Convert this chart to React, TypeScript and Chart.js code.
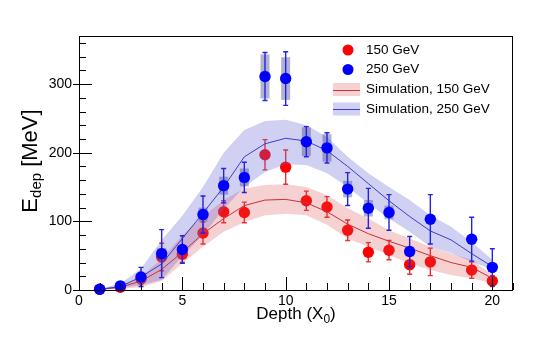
import React, { useEffect, useRef } from "react";
import { Chart, registerables } from "chart.js";

Chart.register(...registerables);

// ---------- data ----------
const depth = [1, 2, 3, 4, 5, 6, 7, 8, 9, 10, 11, 12, 13, 14, 15, 16, 17, 19, 20];
const e150 = [1, 4, 16, 48, 52, 83, 114, 113, 197, 179, 130, 121, 87, 55, 58, 37, 41, 29, 13];
const e150Err = [1, 3, 7, 20, 12, 16, 16, 15, 22, 25, 14, 15, 15, 14, 14, 14, 20, 12, 8];
const e250 = [1, 6, 19, 53, 59, 110, 152, 164, 311, 308, 216, 207, 147, 119, 113, 56, 103, 74, 33];
const e250Err = [1, 4, 14, 35, 20, 27, 25, 22, 35, 39, 22, 22, 24, 29, 26, 22, 36, 32, 27];
const e250Sys = [0, 2, 5, 8, 6, 10, 13, 13, 32, 31, 21, 20, 12, 12, 10, 7, 0, 0, 0];

const simDepth = [1, 2, 3, 4, 5, 6, 7, 8, 9, 10, 11, 12, 13, 14, 15, 16, 17, 18, 19, 20];
const sim150 = [1, 4, 13, 30, 55, 82, 104, 123, 131, 132, 127, 114, 96, 82, 71, 61, 50, 40, 33, 17];
const sim150Hi = [2, 6, 20, 45, 80, 107, 131, 148, 153, 154, 150, 138, 119, 104, 87, 75, 63, 53, 44, 22];
const sim150Lo = [0, 2, 4, 13, 39, 63, 85, 99, 109, 111, 109, 95, 75, 63, 51, 39, 29, 22, 17, 10];
const sim250 = [1, 5, 19, 38, 75, 112, 150, 194, 213, 221, 217, 203, 180, 155, 130, 107, 86, 73, 53, 34];
const sim250Hi = [2, 9, 31, 73, 108, 150, 200, 233, 246, 248, 240, 223, 194, 170, 150, 131, 109, 92, 70, 44];
const sim250Lo = [0, 3, 7, 15, 49, 80, 118, 150, 172, 183, 182, 170, 150, 126, 104, 85, 63, 54, 41, 30];

const xTicks = [0, 5, 10, 15, 20];
const yTicks = [0, 100, 200, 300];

const legendLabels = ["150 GeV", "250 GeV", "Simulation, 150 GeV", "Simulation, 250 GeV"];

// ---------- style ----------
const FONT = "'Liberation Sans', Arial, Helvetica, sans-serif";
const RED = "#ff0000";
const BLUE = "#0000ff";
const RED_BAR = "rgb(235,45,45)";
const BLUE_BAR = "rgb(35,35,225)";
const RED_BAND = "rgba(215,70,70,0.25)";
const BLUE_BAND = "rgba(100,100,215,0.30)";
const RED_LINE = "rgb(200,50,60)";
const BLUE_LINE = "rgb(60,60,200)";
const SYS_BOX = "rgba(60,60,140,0.40)";

type Seg = { t: string; size: number; dy: number };

function segsWidth(ctx: CanvasRenderingContext2D, segs: Seg[]) {
  let w = 0;
  for (const s of segs) {
    ctx.font = `${s.size}px ${FONT}`;
    w += ctx.measureText(s.t).width;
  }
  return w;
}
function drawSegs(ctx: CanvasRenderingContext2D, segs: Seg[], x: number, y: number) {
  let cx = x;
  for (const s of segs) {
    ctx.font = `${s.size}px ${FONT}`;
    ctx.fillText(s.t, cx, y + s.dy);
    cx += ctx.measureText(s.t).width;
  }
}

function drawErrors(
  ctx: CanvasRenderingContext2D,
  xs: any,
  ys: any,
  xv: number[],
  yv: number[],
  err: number[],
  sys: number[] | null,
  color: string
) {
  ctx.save();
  if (sys) {
    ctx.fillStyle = SYS_BOX;
    for (let i = 0; i < xv.length; i++) {
      if (!sys[i]) continue;
      const px = xs.getPixelForValue(xv[i]);
      const top = ys.getPixelForValue(yv[i] + sys[i]);
      const bot = ys.getPixelForValue(yv[i] - sys[i]);
      ctx.fillRect(px - 4.5, top, 9, bot - top);
    }
  }
  ctx.strokeStyle = color;
  ctx.lineWidth = 1.4;
  for (let i = 0; i < xv.length; i++) {
    const px = xs.getPixelForValue(xv[i]);
    const top = ys.getPixelForValue(yv[i] + err[i]);
    const bot = ys.getPixelForValue(Math.max(0, yv[i] - err[i]));
    ctx.beginPath();
    ctx.moveTo(px, top);
    ctx.lineTo(px, bot);
    ctx.moveTo(px - 2.5, top);
    ctx.lineTo(px + 2.5, top);
    ctx.moveTo(px - 2.5, bot);
    ctx.lineTo(px + 2.5, bot);
    ctx.stroke();
  }
  ctx.restore();
}

const pts = (xv: number[], yv: number[]) => xv.map((x, i) => ({ x, y: yv[i] }));

export default function App() {
  const ref = useRef<HTMLCanvasElement>(null);

  useEffect(() => {
    const canvas = ref.current!;

    const rootPlugin = {
      id: "rootStyle",
      beforeDatasetDraw(chart: any, args: any) {
        const ctx = chart.ctx;
        const xs = chart.scales.x;
        const ys = chart.scales.y;
        const ds = chart.data.datasets[args.index];
        if (ds.label === legendLabels[0]) drawErrors(ctx, xs, ys, depth, e150, e150Err, null, RED_BAR);
        if (ds.label === legendLabels[1]) drawErrors(ctx, xs, ys, depth, e250, e250Err, e250Sys, BLUE_BAR);
      },
      afterDraw(chart: any) {
        const ctx: CanvasRenderingContext2D = chart.ctx;
        const xs = chart.scales.x;
        const ys = chart.scales.y;
        const a = chart.chartArea;
        ctx.save();
        // frame
        ctx.strokeStyle = "#000";
        ctx.lineWidth = 1;
        ctx.strokeRect(a.left + 0.5, a.top + 0.5, a.right - a.left - 1, a.bottom - a.top);
        // x ticks (inward)
        ctx.beginPath();
        for (let v = 0; v <= 21; v++) {
          const px = Math.round(xs.getPixelForValue(v)) + 0.5;
          const len = v % 5 === 0 ? 13 : 7;
          ctx.moveTo(px, a.bottom);
          ctx.lineTo(px, a.bottom - len);
        }
        // y ticks
        for (let v = 0; v <= 360; v += 20) {
          const py = Math.round(ys.getPixelForValue(v)) + 0.5;
          if (v % 100 === 0) {
            ctx.moveTo(a.left - 6, py);
            ctx.lineTo(a.left + 13, py);
          } else {
            ctx.moveTo(a.left, py);
            ctx.lineTo(a.left + 7, py);
          }
        }
        ctx.stroke();

        // axis titles
        ctx.fillStyle = "#000";
        ctx.textBaseline = "alphabetic";
        ctx.textAlign = "left";
        const xt: Seg[] = [
          { t: "Depth (X", size: 17, dy: 0 },
          { t: "0", size: 12, dy: 4 },
          { t: ")", size: 17, dy: 0 },
        ];
        const xw = segsWidth(ctx, xt);
        drawSegs(ctx, xt, (a.left + a.right) / 2 - xw / 2, 318.5);

        const yt: Seg[] = [
          { t: "E", size: 22, dy: 0 },
          { t: "dep", size: 15, dy: 4 },
          { t: " [MeV]", size: 22, dy: 0 },
        ];
        const yw = segsWidth(ctx, yt);
        ctx.save();
        ctx.translate(37, 161);
        ctx.rotate(-Math.PI / 2);
        drawSegs(ctx, yt, -yw / 2, 0);
        ctx.restore();

        // legend
        const lx = 348;
        const tx = 366;
        const rows = [50, 69.5, 89.5, 109];
        ctx.font = `13.5px ${FONT}`;
        ctx.textBaseline = "middle";
        ctx.fillStyle = RED;
        ctx.beginPath();
        ctx.arc(lx, rows[0], 5.5, 0, Math.PI * 2);
        ctx.fill();
        ctx.fillStyle = BLUE;
        ctx.beginPath();
        ctx.arc(lx, rows[1], 5.5, 0, Math.PI * 2);
        ctx.fill();
        const bands = [
          [RED_BAND, RED_LINE],
          [BLUE_BAND, BLUE_LINE],
        ];
        for (let k = 0; k < 2; k++) {
          const cy = rows[2 + k];
          ctx.fillStyle = bands[k][0];
          ctx.fillRect(333, cy - 6.5, 27, 13);
          ctx.strokeStyle = bands[k][1];
          ctx.lineWidth = 1;
          ctx.beginPath();
          ctx.moveTo(333, Math.round(cy) + 0.5);
          ctx.lineTo(360, Math.round(cy) + 0.5);
          ctx.stroke();
        }
        ctx.fillStyle = "#000";
        for (let k = 0; k < 4; k++) ctx.fillText(legendLabels[k], tx, rows[k]);
        ctx.restore();
      },
    };

    const bandDs = (label: string, yv: number[], fill: any, bg: string, order: number) => ({
      label,
      data: pts(simDepth, yv),
      borderColor: "transparent",
      borderWidth: 0,
      pointRadius: 0,
      backgroundColor: bg,
      fill,
      order,
      tension: 0,
    });

    const chart = new Chart(canvas, {
      type: "line",
      data: {
        datasets: [
          {
            label: legendLabels[1],
            data: pts(depth, e250),
            showLine: false,
            pointRadius: 5.7,
            pointBackgroundColor: BLUE,
            pointBorderColor: BLUE,
            pointBorderWidth: 0,
            order: 0,
            clip: false,
          } as any,
          {
            label: legendLabels[3],
            data: pts(simDepth, sim250),
            borderColor: BLUE_LINE,
            borderWidth: 1,
            pointRadius: 0,
            fill: false,
            order: 1,
            tension: 0,
          },
          {
            label: legendLabels[2],
            data: pts(simDepth, sim150),
            borderColor: RED_LINE,
            borderWidth: 1,
            pointRadius: 0,
            fill: false,
            order: 2,
            tension: 0,
          },
          bandDs("band250hi", sim250Hi, "+1", BLUE_BAND, 3),
          bandDs("band250lo", sim250Lo, false, "transparent", 4),
          bandDs("band150hi", sim150Hi, "+1", RED_BAND, 5),
          bandDs("band150lo", sim150Lo, false, "transparent", 6),
          {
            label: legendLabels[0],
            data: pts(depth, e150),
            showLine: false,
            pointRadius: 5.7,
            pointBackgroundColor: RED,
            pointBorderColor: RED,
            pointBorderWidth: 0,
            order: 7,
            clip: false,
          } as any,
        ],
      },
      options: {
        responsive: false,
        animation: false,
        events: [],
        layout: { padding: { top: 36, right: 32, left: 0, bottom: 0 } },
        plugins: {
          legend: { display: false },
          tooltip: { enabled: false },
          filler: { propagate: false },
        },
        scales: {
          x: {
            type: "linear",
            min: 0,
            max: 21,
            afterBuildTicks: (s: any) => {
              s.ticks = xTicks.map((v) => ({ value: v }));
            },
            afterFit: (s: any) => {
              s.height = 50;
            },
            ticks: {
              font: { family: FONT, size: 14 },
              color: "#000",
              padding: 3,
              maxRotation: 0,
              autoSkip: false,
            },
            grid: { display: false, drawTicks: false },
            border: { display: false },
          },
          y: {
            type: "linear",
            min: 0,
            max: 370,
            afterBuildTicks: (s: any) => {
              s.ticks = yTicks.map((v) => ({ value: v }));
            },
            afterFit: (s: any) => {
              s.width = 79;
            },
            ticks: {
              font: { family: FONT, size: 14 },
              color: "#000",
              padding: 7,
              autoSkip: false,
            },
            grid: { display: false, drawTicks: false },
            border: { display: false },
          },
        },
      } as any,
      plugins: [rootPlugin],
    });

    return () => chart.destroy();
  }, []);

  return (
    <div style={{ position: "fixed", left: 0, top: 0, width: 545, height: 340, background: "#fff" }}>
      <canvas ref={ref} width={545} height={340} style={{ display: "block" }} />
    </div>
  );
}
